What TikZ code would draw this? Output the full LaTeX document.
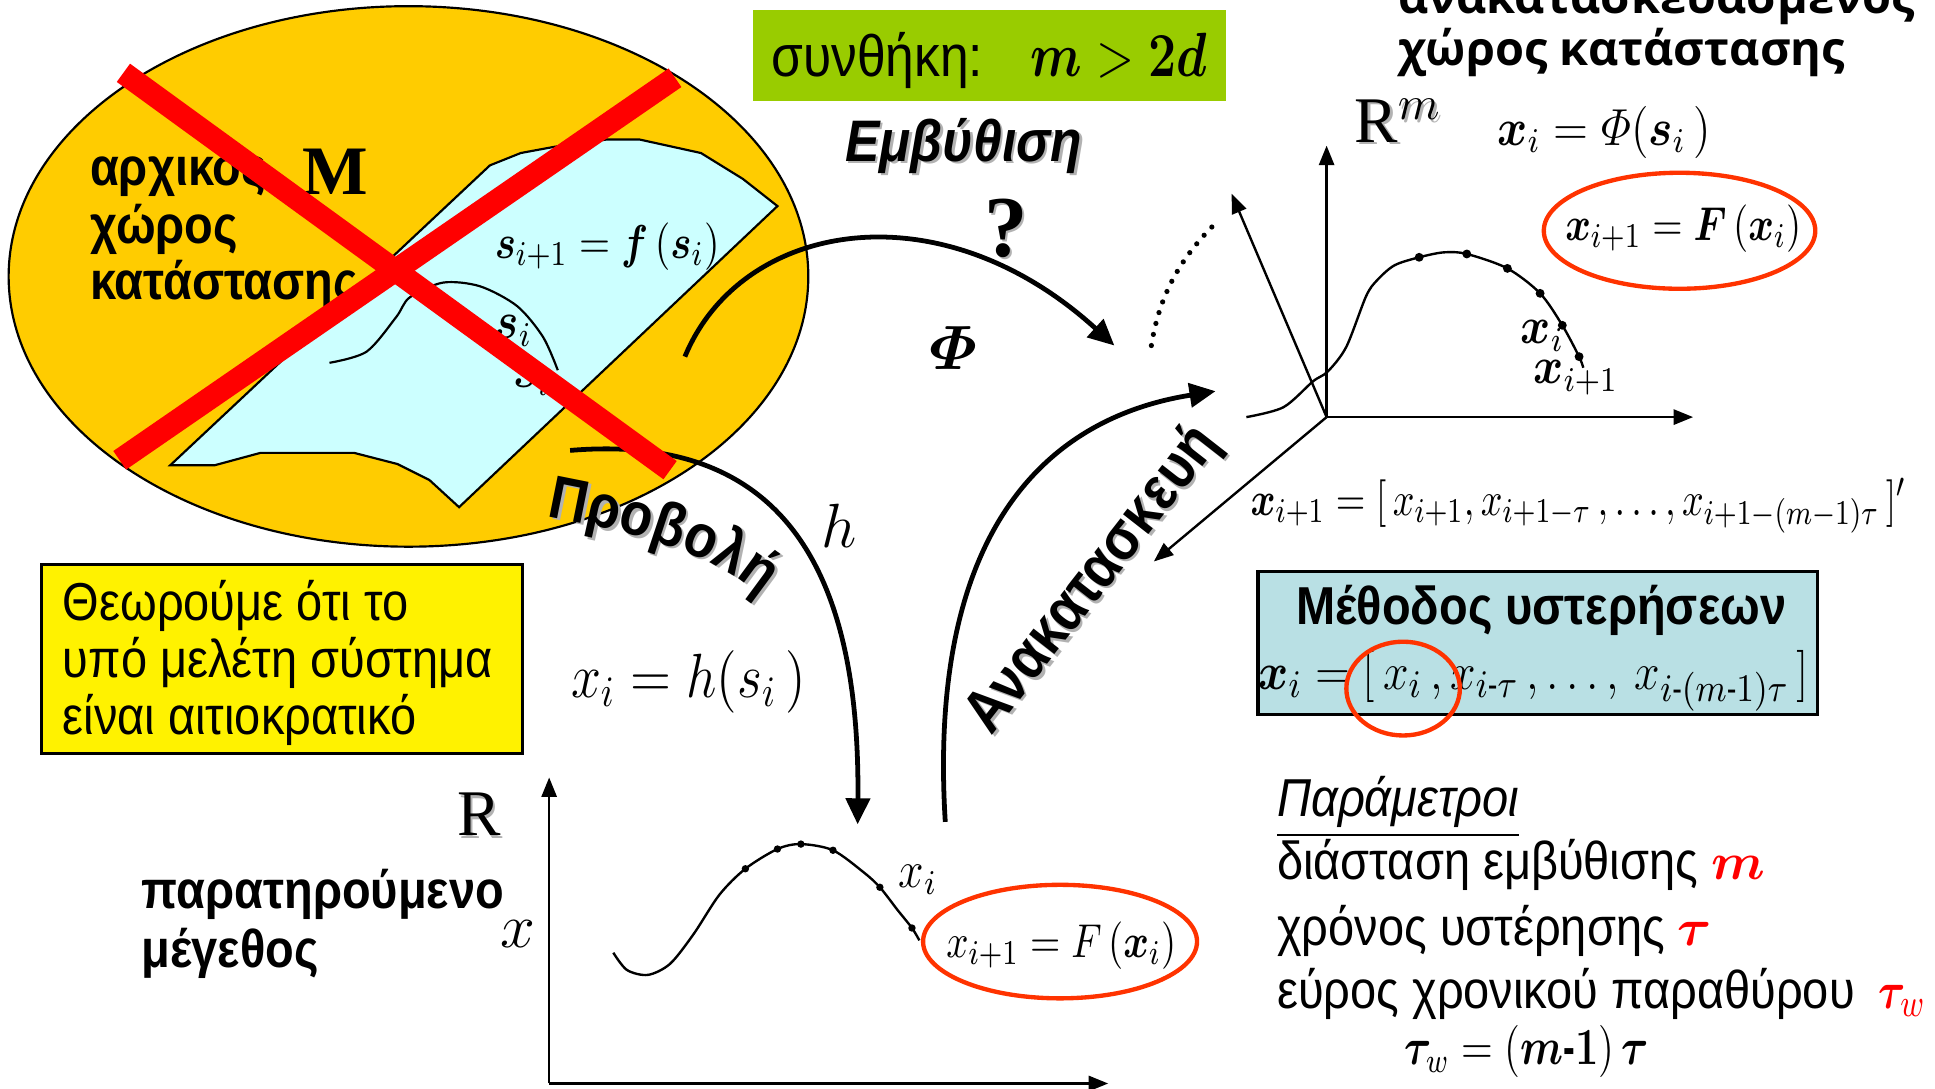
\documentclass[tikz,border=0pt]{standalone}
\usepackage{amsmath}
\usepackage{bm}
\usepackage[no-math]{fontspec}
\setmainfont{Liberation Sans}[FakeStretch=0.88]
\newfontfamily\headsans{Open Sans}
\newfontfamily\headserif{Liberation Serif}
\usetikzlibrary{arrows.meta,decorations.text}

\definecolor{ochre}{RGB}{255,204,0}
\definecolor{palecyan}{RGB}{204,255,255}
\definecolor{limegreen}{RGB}{153,204,0}
\definecolor{paleteal}{RGB}{185,224,228}
\definecolor{ringred}{RGB}{255,51,0}
\definecolor{shadowgray}{RGB}{178,178,178}

\newcommand\sq[2][0.88]{\scalebox{#1}[1]{#2}}

\begin{document}
\begin{tikzpicture}[x=0.01cm,y=-0.01cm,
  lbl/.style={inner sep=0pt,outer sep=0pt},
  sanstxt/.style={lbl,font=\fontsize{12.3}{14}\selectfont},
  boldtxt/.style={lbl,font=\bfseries\fontsize{12.3}{14}\selectfont},
  eqn/.style={lbl,font=\fontsize{12}{14}\selectfont},
  slanted/.style={lbl,font=\bfseries\fontsize{14}{14}\selectfont},
  bigarrow/.style={line width=1.1pt,-{Triangle[length=6pt,width=5.5pt]}},
  axis/.style={line width=0.55pt,-{Triangle[length=4.5pt,width=3.5pt]}},
  ring/.style={draw=ringred,line width=1pt}]
  \useasboundingbox (0,0) rectangle (1568,882);

  % original state space
  \draw[fill=ochre,line width=0.5pt] (331,224) ellipse [x radius=324,y radius=219];
  \draw[fill=palecyan,line width=0.5pt] (138,377) -- (174,377) -- (211,367) -- (287,367)
    -- (322,376) -- (348,389) -- (372,411) -- (630,167) -- (602,145) -- (568,124)
    -- (518,113) -- (492,113) -- (449,119) -- (422,124) -- (397,134) -- cycle;
  \draw[line width=0.5pt] plot[smooth] coordinates {(267,294) (297,285) (321,257) (332,241)
    (359,229) (389,232) (419,248) (440,273) (452,300)};
  \node[eqn,font=\fontsize{11}{13}\selectfont] (smap) at (492,200) {\sq[0.84]{$\bm{s}_{i+1} = \bm{f}\,(\bm{s}_{i})$}};
  \node[eqn] (si) at (416,268) {\sq{$\bm{s}_{i}$}};
  \node[eqn] (sj) at (431,308) {\sq{$\bm{s}_{i}$}};
  \node[boldtxt,anchor=base west] (orig1) at (73,150) {αρχικός};
  \node[lbl,anchor=base west,font=\headserif\bfseries\fontsize{16}{16}\selectfont] (mset) at (245,158) {M};
  \node[boldtxt,anchor=base west] (orig2) at (73,197) {χώρος};
  \node[boldtxt,anchor=base west] (orig3) at (73,243) {κατάστασης};

  % projection h
  \coordinate (hstart) at (462,365);
  \coordinate (hend) at (695,668);
  \draw[bigarrow] (hstart) .. controls (640,350) and (697,470) .. (hend);

  % crossed out
  \draw[red,line width=5.2pt] (100,59) -- (543,381);
  \draw[red,line width=5.2pt] (547,63) -- (97,373);

  % condition
  \node[lbl,fill=limegreen,minimum width=3.83cm,minimum height=0.74cm] (cond) at (801.5,45) {};
  \node[lbl,anchor=base west,font=\fontsize{13.5}{14}\selectfont] (condtext) at (625,62) {συνθήκη:};
  \node[lbl,anchor=base east,font=\fontsize{14.5}{15}\selectfont] (condeq) at (978,62) {\sq[0.8]{$\bm{m} > \bm{2d}$}};

  % embedding
  \node[slanted,font=\bfseries\itshape\fontsize{13.5}{13.5}\selectfont,text=shadowgray] (embedsh) at (783,120) {Εμβύθιση};
  \node[slanted,font=\bfseries\itshape\fontsize{13.5}{13.5}\selectfont] (embed) at (781,118) {Εμβύθιση};
  \node[lbl,text=shadowgray,font=\headserif\bfseries\fontsize{20}{20}\selectfont] (asksh) at (817,187) {?};
  \node[lbl,font=\headserif\bfseries\fontsize{20}{20}\selectfont] (ask) at (815,185) {?};
  \node[lbl,font=\fontsize{15}{15}\selectfont] (phi) at (773,282) {$\bm{\varPhi}$};
  \coordinate (phistart) at (555,289);
  \coordinate (phiend) at (903,280);
  \draw[bigarrow] (phistart) .. controls (600,180) and (760,150) .. (phiend);
  \draw[line width=1.2pt,line cap=round,dash pattern=on 0pt off 2.6pt] (933,280) .. controls (940,235) and (960,205) .. (988,178);

  % reconstructed space
  \coordinate (o3) at (1075,338);
  \coordinate (up3) at (1075,118);
  \coordinate (right3) at (1372,338);
  \coordinate (back3) at (998,157);
  \coordinate (front3) at (935,455);
  \draw[axis] (o3) -- (up3);
  \draw[axis] (o3) -- (right3);
  \draw[axis] (o3) -- (back3);
  \draw[axis] (o3) -- (front3);
  \draw[line width=0.55pt] plot[smooth] coordinates {(1010,338) (1040,330) (1064,309) (1076,301)
    (1091,281) (1107,240) (1116,227) (1130,215) (1150,208.5) (1170,204.5) (1188.6,205.8)
    (1221.5,217.5) (1248,237.7) (1266,263.6) (1279.6,289) (1283,298)};
  \foreach \p in {(1150,208.5),(1188.6,205.8),(1221.5,217.5),(1248,237.7),(1266,263.6),(1279.6,289)}
    \fill \p circle [radius=3.6];
  \node[lbl,text=shadowgray,font=\headserif\fontsize{15}{15}\selectfont] (rmsh) at (1135,100) {R$^{m}$};
  \node[lbl,font=\headserif\fontsize{15}{15}\selectfont] (rm) at (1133,98) {R$^{m}$};
  \node[eqn] (phimap) at (1300,107) {\sq{$\bm{x}_{i} = \varPhi(\bm{s}_{i}\,)$}};
  \draw[ring] (1361,187) ellipse [x radius=110,y radius=47];
  \node[eqn,font=\fontsize{11}{13}\selectfont] (fmap) at (1364,185) {\sq[0.82]{$\bm{x}_{i+1} = \bm{F}\,(\bm{x}_{i})$}};
  \node[eqn] (xi3) at (1250,272) {\sq{$\bm{x}_{i}$}};
  \node[eqn] (xj3) at (1277,306) {\sq{$\bm{x}_{i+1}$}};
  \node[lbl,anchor=base west,font=\headsans\bfseries\fontsize{10.8}{11}\selectfont] (rec1) at (1133,11) {ανακατασκευασμένος};
  \node[lbl,anchor=base west,font=\headsans\bfseries\fontsize{10.8}{11}\selectfont] (rec2) at (1133,53) {χώρος κατάστασης};
  \node[eqn,font=\fontsize{11}{13}\selectfont] (delayvec) at (1279,410) {\sq[0.8]{$\bm{x}_{i+1} = [\,x_{i+1}, x_{i+1-\tau}\,, \ldots, x_{i+1-(m-1)\tau}\,]'$}};

  % reconstruction
  \coordinate (recstart) at (766,666);
  \coordinate (recend) at (985,317);
  \draw[bigarrow] (recstart) .. controls (752,440) and (840,340) .. (recend);
  \node[slanted,text=shadowgray,rotate=52] (recsh) at (888,472) {Ανακατασκευή};
  \node[slanted,rotate=52] (rec) at (886,470) {Ανακατασκευή};

  % projection label
  \path[decorate,decoration={text along path,text align=center,text color=shadowgray,
    text={|\bfseries\fontsize{14}{14}\selectfont|Προβολή}}]
    (444,420) .. controls (492,430) and (570,442) .. (620,486);
  \path[decorate,decoration={text along path,text align=center,
    text={|\bfseries\fontsize{14}{14}\selectfont|Προβολή}}]
    (442,418) .. controls (490,428) and (568,440) .. (618,484);
  \node[lbl,font=\fontsize{14}{14}\selectfont] (hlab) at (680,426) {$h$};
  \node[lbl,font=\fontsize{14}{14}\selectfont,anchor=base] (hmap) at (558,565) {\sq[0.86]{$x_{i} = h(s_{i}\,)$}};

  % assumption
  \node[lbl,draw,fill=yellow,line width=0.7pt,minimum width=3.89cm,minimum height=1.53cm] (note) at (228.5,534) {};
  \node[sanstxt,anchor=base west] (note1) at (51,503) {Θεωρούμε ότι το};
  \node[sanstxt,anchor=base west] (note2) at (51,549) {υπό μελέτη σύστημα};
  \node[sanstxt,anchor=base west] (note3) at (51,595) {είναι αιτιοκρατικό};

  % observed series
  \coordinate (o1) at (445,878);
  \coordinate (up1) at (445,630);
  \coordinate (right1) at (898,878);
  \draw[axis] (o1) -- (up1);
  \draw[axis] (o1) -- (right1);
  \node[lbl,text=shadowgray,font=\headserif\fontsize{15}{15}\selectfont] (rsh) at (390,662) {R};
  \node[lbl,font=\headserif\fontsize{15}{15}\selectfont] (r1) at (388,660) {R};
  \node[lbl,font=\fontsize{15}{15}\selectfont] (xaxis) at (420,757) {$x$};
  \node[boldtxt,anchor=base west] (obs1) at (115,736) {παρατηρούμενο};
  \node[boldtxt,anchor=base west] (obs2) at (115,784) {μέγεθος};
  \draw[line width=0.55pt] plot[smooth] coordinates {(497,772) (508,786) (525,790) (543,781)
    (562,757) (583,725) (604,704) (630,688) (649,684) (675,689) (700,707) (713,719)
    (727,737) (739,752) (745,762)};
  \foreach \p in {(604,704),(630,688),(649,684),(675,689),(713,719),(739,752)}
    \fill \p circle [radius=3];
  \node[eqn] (xi1) at (744,713) {\sq{$x_{i}$}};
  \draw[ring] (859,763) ellipse [x radius=111,y radius=46];
  \node[eqn,font=\fontsize{11}{13}\selectfont] (fmap1) at (860,766) {\sq[0.82]{$x_{i+1} = F\,(\bm{x}_{i})$}};

  % method of delays
  \node[lbl,draw,fill=paleteal,line width=0.8pt,minimum width=4.53cm,minimum height=1.16cm] (lagbox) at (1246,521) {};
  \node[boldtxt,anchor=base] (lagtitle) at (1249,506) {Μέθοδος υστερήσεων};
  \node[eqn,anchor=base,font=\fontsize{12.3}{14}\selectfont] (lageq) at (1243,559) {\sq{$\bm{x}_{i} = [\,x_{i}\,, x_{i\text{-}\tau}\,,\ldots,\, x_{i\text{-}(m\text{-}1)\tau}\,]$}};
  \draw[ring] (1137,558) ellipse [x radius=46,y radius=38];

  % parameters
  \node[sanstxt,anchor=base west] (params) at (1035,662) {\underline{\textit{Παράμετροι}}};
  \node[sanstxt,anchor=base west] (pdim) at (1035,713) {διάσταση εμβύθισης \textcolor{red}{$\bm{m}$}};
  \node[sanstxt,anchor=base west] (plag) at (1035,766) {χρόνος υστέρησης \textcolor{red}{$\bm{\tau}$}};
  \node[sanstxt,anchor=base west] (pwin) at (1035,817) {εύρος χρονικού παραθύρου\hspace{0.45em}\textcolor{red}{\sq[0.8]{$\bm{\tau}_{w}$}}};
  \node[lbl,anchor=base west,font=\fontsize{11.5}{13}\selectfont] (tauw) at (1138,863) {\sq[0.8]{$\bm{\tau}_{w} = (\bm{m}\textbf{-}\bm{1})\,\bm{\tau}$}};
\end{tikzpicture}
\end{document}
